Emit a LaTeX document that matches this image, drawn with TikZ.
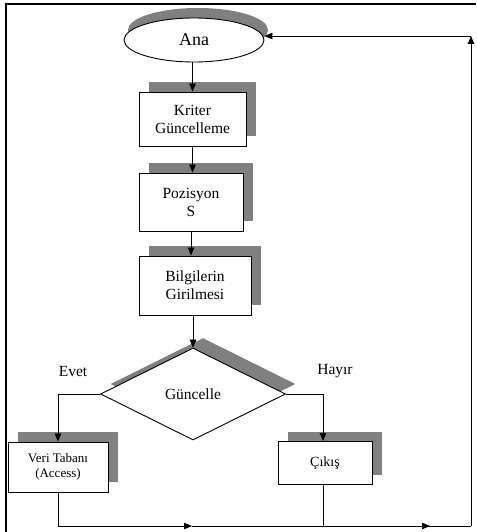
\documentclass[tikz,border=0pt]{standalone}
\usepackage{fontspec}
\setmainfont{Liberation Serif}
\usetikzlibrary{shapes.geometric,shadows,arrows.meta}
\tikzset{
	kutu/.style={draw,line width=0.9pt,fill=white,minimum width=#1,inner sep=0pt,align=center,
		font=\fontsize{15.5}{18}\selectfont,
		drop shadow={shadow xshift=10pt,shadow yshift=10pt,fill=black!50,opacity=1}},
	ok/.style={-{Triangle[length=8pt,width=6.5pt]},line width=0.8pt},
	hat/.style={line width=0.8pt}
}
\begin{document}
\begin{tikzpicture}[x=1pt,y=-1pt]
		\useasboundingbox (0,0) rectangle (476,532);
		\draw[line width=2.2pt] (6,532) -- (6,4) -- (476,4);
		\node[ellipse,draw,line width=0.9pt,fill=white,minimum width=140pt,minimum height=44pt,inner sep=0pt,
			font=\fontsize{18}{20}\selectfont,
			drop shadow={shadow xshift=4pt,shadow yshift=10pt,fill=black!50,opacity=1}] (ana) at (194,40) {Ana};
		\node[kutu=107pt,minimum height=54pt] (kriter) at (192.5,119) {Kriter\\Güncelleme};
		\node[kutu=104pt,minimum height=58pt] (poz) at (191,202) {Pozisyon\\S};
		\node[kutu=112pt,minimum height=59pt] (bilgi) at (195,285.5) {Bilgilerin\\Girilmesi};
		\node[diamond,draw,line width=0.9pt,fill=white,minimum width=185pt,minimum height=92pt,inner sep=0pt,
			font=\fontsize{15.5}{18}\selectfont,
			drop shadow={shadow xshift=10pt,shadow yshift=10pt,fill=black!50,opacity=1}] (guncelle) at (193,394) {Güncelle};
		\node[kutu=100pt,minimum height=50pt,font=\fontsize{13}{15.5}\selectfont] (veri) at (58,467) {Veri Tabanı\\(Access)};
		\node[kutu=94pt,minimum height=43pt,font=\fontsize{14}{16}\selectfont] (cikis) at (325,463) {Çıkış};
		\node[font=\fontsize{15.5}{18}\selectfont] (evet) at (73,371) {Evet};
		\node[font=\fontsize{15.5}{18}\selectfont] (hayir) at (335,371) {Hayır};
		\coordinate (sol) at (58,526);
		\coordinate (sag) at (471,526);
		\coordinate (ust) at (471,36);
		\coordinate (ok1) at (192,526);
		\coordinate (ok2) at (430,526);
		\draw[ok] (ana.south -| kriter.north) -- (kriter.north);
		\draw[ok] (kriter.south) -- (kriter.south |- poz.north);
		\draw[ok] (poz.south) -- (poz.south |- bilgi.north);
		\draw[ok] (bilgi.south -| guncelle.north) -- (guncelle.north);
		\draw[ok] (guncelle.west) -| (veri.north);
		\draw[ok] (guncelle.east) -| ([xshift=-2pt]cikis.north);
		\draw[hat] (veri.south) -- (sol);
		\draw[ok] (sol) -- (ok1);
		\draw[hat] (ok1) -- (sag);
		\draw[hat] ([xshift=-2pt]cikis.south) -- ([xshift=-2pt]cikis.south |- sag);
		\draw[ok] ([xshift=-2pt]cikis.south |- sag) -- (ok2);
		\draw[ok] (sag) -- (ust);
		\draw[ok] (ust) -- (ust -| ana.east);
	\end{tikzpicture}
\end{document}
